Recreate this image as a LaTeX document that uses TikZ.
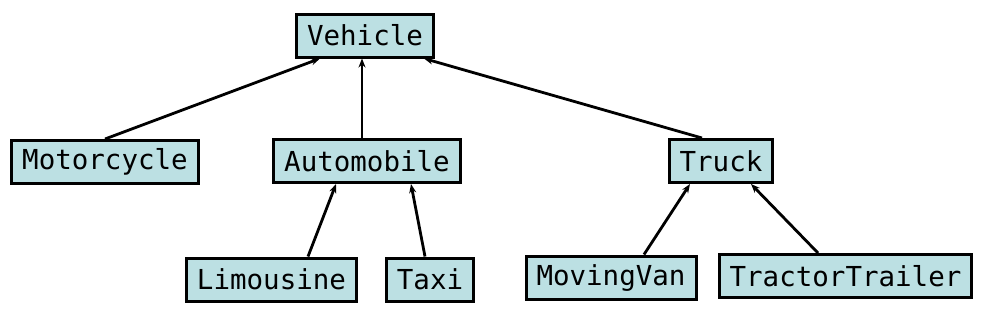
\documentclass[tikz,border=0pt]{standalone}
\usepackage{fontspec}
\setmonofont{DejaVu Sans Mono}
\usepackage{xcolor}
\usetikzlibrary{arrows.meta}
\definecolor{classfill}{RGB}{188,224,227}

\begin{document}
\begin{tikzpicture}[
    x=1pt, y=-1pt,
    font=\ttfamily\fontsize{27.5}{30}\selectfont,
    class/.style={draw, line width=3pt, fill=classfill, inner xsep=10.5pt,
        inner ysep=0pt, minimum height=43pt},
    inherit/.style={-{Stealth[length=9pt, width=7pt]}, line width=2.8pt},
]
    \useasboundingbox (0,0) rectangle (981,322);
    \node[class] (vehicle) at (365, 35.5) {Vehicle};
    \node[class] (motorcycle) at (105, 162) {Motorcycle};
    \node[class] (automobile) at (367, 161) {Automobile};
    \node[class] (truck) at (721, 161) {Truck};
    \node[class] (limousine) at (271.5, 279.5) {Limousine};
    \node[class] (taxi) at (430, 279.5) {Taxi};
    \node[class] (movingvan) at (611, 277.5) {MovingVan};
    \node[class] (tractortrailer) at (845.5, 276) {TractorTrailer};
    \draw[inherit] (motorcycle.north) -- ([xshift=-45pt]vehicle.south);
    \draw[inherit] ([xshift=-5pt]automobile.north) -- ([xshift=-3pt]vehicle.south);
    \draw[inherit] ([xshift=-19pt]truck.north) -- ([xshift=59pt]vehicle.south);
    \draw[inherit] ([xshift=36.5pt]limousine.north) -- ([xshift=-31pt]automobile.south);
    \draw[inherit] ([xshift=-5pt]taxi.north) -- ([xshift=44pt]automobile.south);
    \draw[inherit] ([xshift=33pt]movingvan.north) -- ([xshift=-31pt]truck.south);
    \draw[inherit] ([xshift=-27.5pt]tractortrailer.north) -- ([xshift=30pt]truck.south);
\end{tikzpicture}
\end{document}
